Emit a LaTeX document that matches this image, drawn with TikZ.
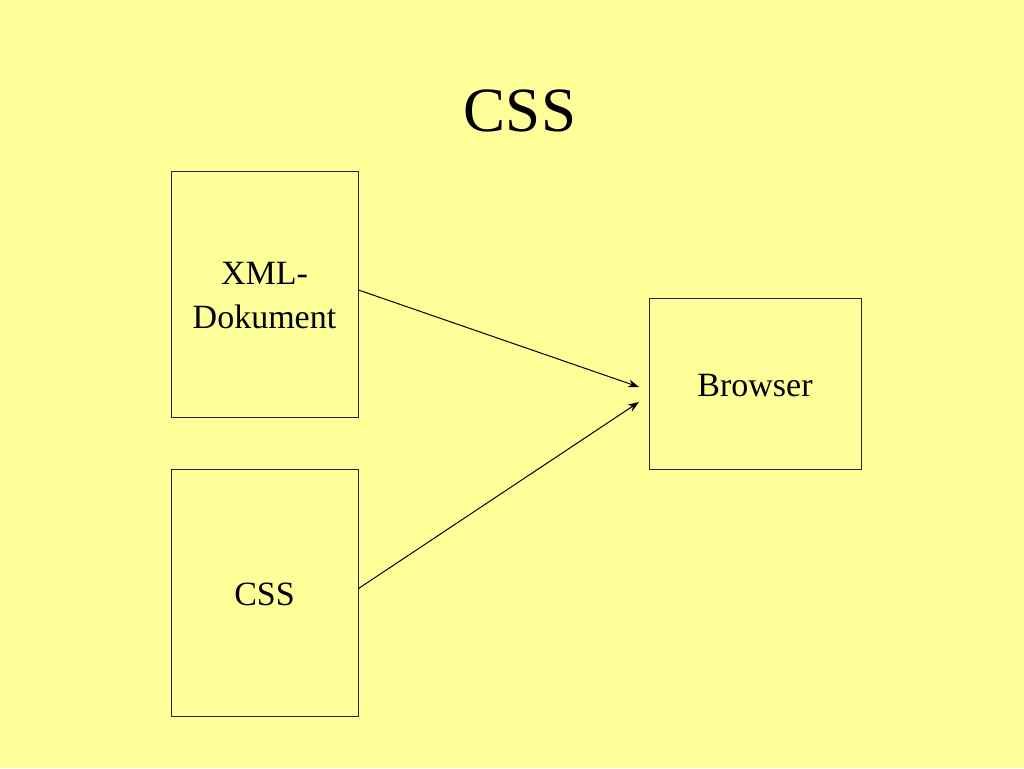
\documentclass[tikz,border=0pt]{standalone}
\usepackage{fontspec}
\setmainfont{Liberation Serif}
\usetikzlibrary{arrows.meta}
\definecolor{slidebg}{HTML}{FFFF99}
\tikzset{
  box/.style={draw=black!85, line width=1pt, inner sep=0pt, align=center,
    font=\fontsize{34}{44}\selectfont},
  conn/.style={line width=1pt, -{Stealth[length=11pt,width=8pt]}},
}
\begin{document}
\begin{tikzpicture}[x=1pt,y=-1pt]
\fill[slidebg] (0,0) rectangle (1024,768);
\useasboundingbox (0,0) rectangle (1024,768);
\node[font=\fontsize{63}{70}\selectfont] (title) at (520,111) {CSS};
\node[box, minimum width=187pt, minimum height=246pt,
  label={[font=\fontsize{34}{44}\selectfont, align=center, yshift=-2pt]center:XML-\\Dokument}] (xml) at (264.5,294) {};
\node[box, minimum width=187pt, minimum height=247pt,
  label={[font=\fontsize{34}{44}\selectfont, yshift=-2pt]center:CSS}] (css) at (264.5,592.5) {};
\node[box, minimum width=212pt, minimum height=171pt,
  label={[font=\fontsize{34}{44}\selectfont, yshift=-2pt]center:Browser}] (br) at (755,383.5) {};
\coordinate (t1) at (639,387);
\coordinate (t2) at (639,402);
\draw[conn] (xml.east) ++(0,-4) -- (t1);
\draw[conn] (css.east) ++(0,-4) -- (t2);
\end{tikzpicture}
\end{document}
